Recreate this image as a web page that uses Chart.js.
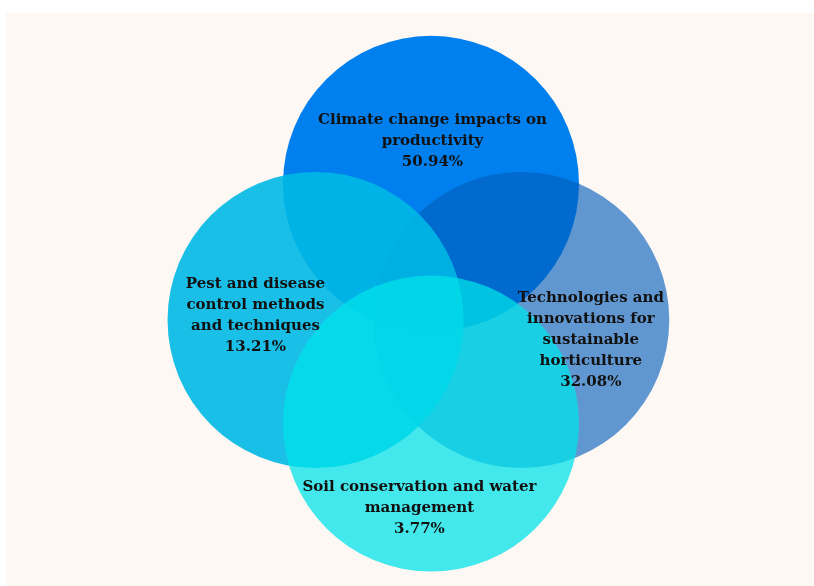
<!DOCTYPE html>
<html>
<head>
<meta charset="utf-8">
<script src="https://cdn.jsdelivr.net/npm/chart.js@4/dist/chart.umd.min.js"></script>
<style>
  html, body { margin: 0; padding: 0; background: #ffffff; }
  #wrap { position: absolute; left: 6px; top: 13px; width: 808px; height: 573px; background: #fdf8f3; }
</style>
</head>
<body>
<div id="wrap"><canvas id="venn"></canvas></div>
<script>
// drawing order: top, right, left, bottom
const categories = [
    ['Climate change impacts on', 'productivity'],
    ['Technologies and', 'innovations for', 'sustainable', 'horticulture'],
    ['Pest and disease', 'control methods', 'and techniques'],
    ['Soil conservation and water', 'management']
];
const shares = [50.94, 32.08, 13.21, 3.77];

// circle centres and radius, in units of one radius
const centerX = [0, 0.61, -0.78, 0];
const centerY = [0.92, 0, 0, -0.70];
const radii = [1, 1, 1, 1];

// label anchors (middle of text block), same units
const labelX = [0.01, 1.08, -1.186, -0.078];
const labelY = [1.21, -0.135, 0.03, -1.27];

const fills = [
    'rgba(0, 128, 238, 1)',
    'rgba(0, 92, 186, 0.62)',
    'rgba(0, 184, 229, 0.9)',
    'rgba(0, 226, 234, 0.74)'
];

const labelPlugin = {
    id: 'vennLabels',
    afterDatasetsDraw(chart) {
        const ctx = chart.ctx;
        const xs = chart.scales.x, ys = chart.scales.y;
        ctx.save();
        ctx.fillStyle = '#111111';
        ctx.font = 'bold 15px "DejaVu Serif"';
        ctx.textAlign = 'center';
        ctx.textBaseline = 'middle';
        const lh = 21;
        categories.forEach((lines, i) => {
            const all = lines.concat([shares[i].toFixed(2) + '%']);
            const cx = xs.getPixelForValue(labelX[i]);
            const cy = ys.getPixelForValue(labelY[i]);
            const top = cy - (all.length - 1) * lh / 2;
            all.forEach((t, j) => ctx.fillText(t, cx, top + j * lh));
        });
        ctx.restore();
    }
};

const chart = new Chart(document.getElementById('venn').getContext('2d'), {
    type: 'bubble',
    data: {
        datasets: [{
            data: centerX.map((x, i) => ({ x: x, y: centerY[i], r: 1 })),
            backgroundColor: fills,
            borderWidth: 0,
            clip: false
        }]
    },
    options: {
        responsive: true,
        maintainAspectRatio: false,
        animation: false,
        events: [],
        layout: { padding: 0, autoPadding: false },
        scales: {
            x: { display: false, min: -2.8716, max: 2.5878 },
            y: { display: false, min: -1.7973, max: 2.0743 }
        },
        plugins: {
            legend: { display: false },
            tooltip: { enabled: false }
        }
    },
    plugins: [labelPlugin]
});

// bubble radius is in pixels: convert the unit radius through the x scale
const xs = chart.scales.x;
chart.data.datasets[0].data.forEach((d, i) => {
    d.r = Math.abs(xs.getPixelForValue(radii[i]) - xs.getPixelForValue(0));
});
chart.update();
</script>
</body>
</html>
